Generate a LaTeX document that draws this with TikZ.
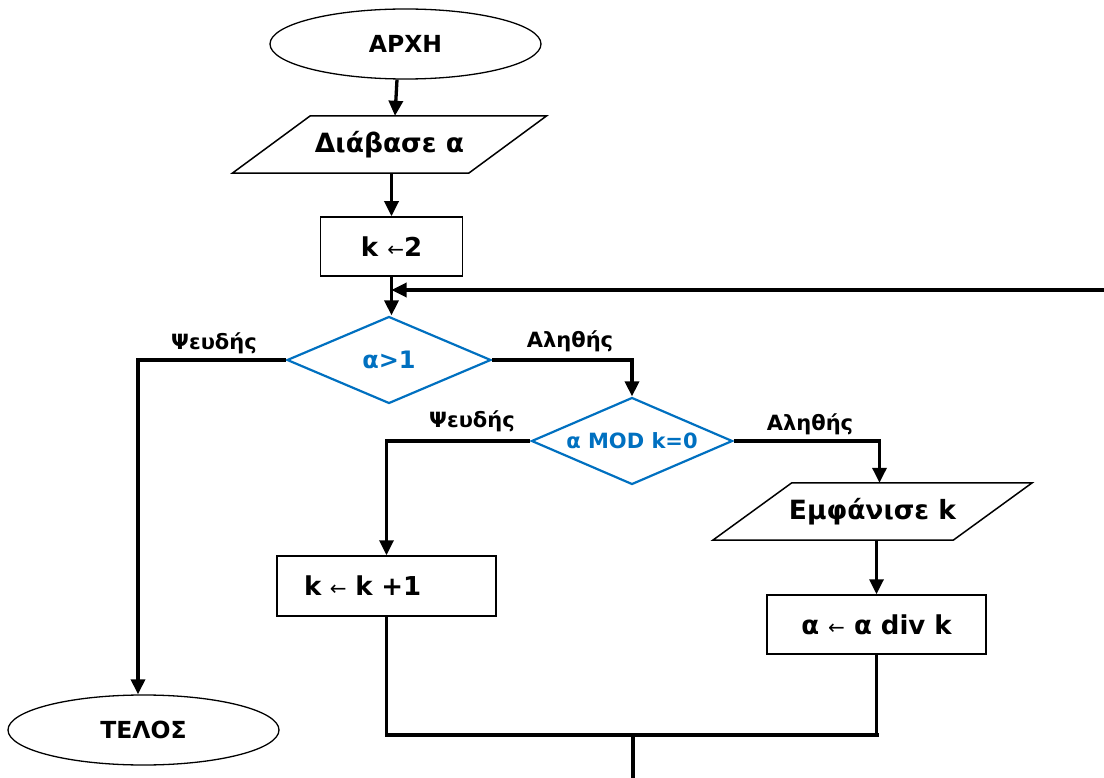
\documentclass[tikz,border=0pt]{standalone}
\usepackage{fontspec}
\setmainfont{DejaVu Sans}
\usetikzlibrary{arrows.meta,shapes.geometric}
\definecolor{flowblue}{RGB}{0,112,192}
\newcommand{\larr}{{\mdseries\fontsize{20}{20}\selectfont ←}}
\begin{document}
\begin{tikzpicture}[x=1pt,y=-1pt,
  termbox/.style={ellipse, draw, line width=1.3pt, inner sep=0pt,
    minimum width=271pt, minimum height=70pt, font=\bfseries\fontsize{23.5}{26}\selectfont},
  stmtbox/.style={rectangle, draw, line width=1.5pt, inner sep=0pt,
    minimum height=60pt, font=\bfseries\fontsize{26}{30}\selectfont},
  iobox/.style={rectangle, draw=none, inner sep=0pt,
    minimum height=57pt, font=\bfseries\fontsize{26.5}{30}\selectfont},
  iooutline/.style={line width=1.5pt, line join=miter},
  decbox/.style={diamond, draw=flowblue, line width=2.2pt, inner sep=0pt, aspect=2.35,
    text=flowblue},
  branchlabel/.style={font=\bfseries\fontsize{21}{24}\selectfont, inner sep=0pt},
  conn/.style={line width=3.3pt},
  arrconn/.style={line width=3.3pt, -{Triangle[length=15pt,width=14pt]}},
]
\useasboundingbox (0,0) rectangle (1104,778);

% nodes
\node[termbox] (start) at (405.5,44) {ΑΡΧΗ};
\node[iobox, minimum width=236pt] (p1) at (389.5,144.5) {Διάβασε α};
\draw[iooutline] ([xshift=-39pt]p1.south west) -- ([xshift=39pt]p1.north west)
  -- ([xshift=39pt]p1.north east) -- ([xshift=-39pt]p1.south east) -- cycle;
\node[stmtbox, minimum width=142pt, minimum height=59pt] (k2) at (391.5,246.5) {k \larr2};
\node[decbox, minimum width=204pt, minimum height=87pt,
  font=\bfseries\fontsize{24}{26}\selectfont] (d1) at (389,360) {α>1};
\node[decbox, minimum width=201pt, minimum height=87pt,
  font=\bfseries\fontsize{21}{23}\selectfont] (d2) at (632,441) {α MOD k=0};
\node[iobox, minimum width=240pt] (p2) at (872.5,511.5) {Εμφάνισε k};
\draw[iooutline] ([xshift=-39.5pt]p2.south west) -- ([xshift=39.5pt]p2.north west)
  -- ([xshift=39.5pt]p2.north east) -- ([xshift=-39.5pt]p2.south east) -- cycle;
\node[stmtbox, minimum width=219pt, text width=165pt, align=left, inner xsep=27pt] (k1) at (386.5,586) {k \larr{} k +1};
\node[stmtbox, minimum width=219pt, minimum height=59pt] (a2) at (876.5,624.5) {α \larr{} α div k};
\node[termbox] (end) at (143.5,730) {ΤΕΛΟΣ};

% branch labels
\node[branchlabel] (l1f) at (214,343) {Ψευδής};
\node[branchlabel] (l1t) at (570,341) {Αληθής};
\node[branchlabel] (l2f) at (472,421) {Ψευδής};
\node[branchlabel] (l2t) at (810,424) {Αληθής};

% helper coordinates
\coordinate (loopR) at (1104,290);
\coordinate (join) at (633,735);
\coordinate (exit) at (633,778);

% connectors
\draw[arrconn] ([xshift=-8.5pt]start.south) -- ([xshift=5.5pt]p1.north);
\draw[arrconn] (p1.south -| k2.north) -- (k2.north);
\draw[arrconn] (k2.south) -- (k2.south |- d1.north);
\draw[arrconn] (loopR) -- (loopR -| k2.south);
\draw[arrconn] (d1.west) -| ([xshift=-5.5pt]end.north);
\draw[arrconn] (d1.east) -| (d2.north);
\draw[arrconn] (d2.west) -| (k1.north);
\draw[arrconn] (d2.east) -| ([xshift=7pt]p2.north);
\draw[arrconn] (p2.south -| a2.north) -- (a2.north);
\draw[conn] (k1.south) -- (k1.south |- join);
\draw[conn] (a2.south) -- (a2.south |- join);
\draw[line width=4pt, line cap=rect] (k1.south |- join) -- (a2.south |- join);
\draw[conn] (join) -- (exit);
\end{tikzpicture}
\end{document}
